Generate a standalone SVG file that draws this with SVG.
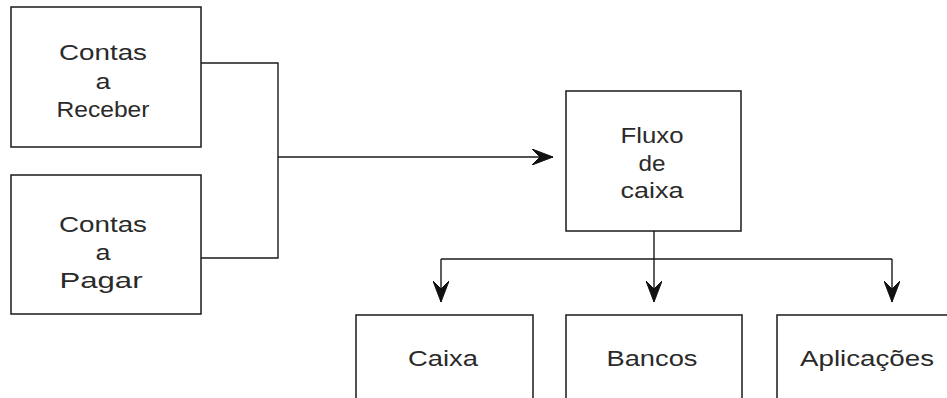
<svg xmlns="http://www.w3.org/2000/svg" width="947" height="398" viewBox="0 0 947 398">
<defs>
<style>
.box{fill:#fff;stroke:#1a1a1a;stroke-width:1.5}
.t{font-family:"Liberation Sans",Arial,sans-serif;font-size:22px;fill:#2a2a2a;text-anchor:middle}
.ln{fill:none;stroke:#1a1a1a;stroke-width:1.4}
</style>
<marker id="ah" markerUnits="userSpaceOnUse" markerWidth="22" markerHeight="16" viewBox="0 0 22 16" refX="22" refY="8" orient="auto">
<path d="M22,8 L1,0 L9,8 L1,16 Z" fill="#111" stroke="#111" stroke-width="1" stroke-linejoin="round"/>
</marker>
</defs>
<rect width="947" height="398" fill="#fff"/>
<g id="contas-receber">
<rect class="box" x="11" y="7" width="190" height="140"/>
<text class="t" x="103" y="60" textLength="88" lengthAdjust="spacingAndGlyphs">Contas</text>
<text class="t" x="103" y="89" textLength="15" lengthAdjust="spacingAndGlyphs">a</text>
<text class="t" x="103" y="117" textLength="93" lengthAdjust="spacingAndGlyphs">Receber</text>
</g>
<g id="contas-pagar">
<rect class="box" x="11" y="175" width="190" height="139"/>
<text class="t" x="103" y="232" textLength="88" lengthAdjust="spacingAndGlyphs">Contas</text>
<text class="t" x="103" y="260" textLength="15" lengthAdjust="spacingAndGlyphs">a</text>
<text class="t" x="101" y="288" textLength="83" lengthAdjust="spacingAndGlyphs">Pagar</text>
</g>
<g id="fluxo-caixa">
<rect class="box" x="566" y="91" width="175" height="140"/>
<text class="t" x="652" y="143" textLength="63" lengthAdjust="spacingAndGlyphs">Fluxo</text>
<text class="t" x="652" y="171" textLength="27" lengthAdjust="spacingAndGlyphs">de</text>
<text class="t" x="652" y="198" textLength="63" lengthAdjust="spacingAndGlyphs">caixa</text>
</g>
<g id="caixa">
<rect class="box" x="356" y="315" width="177" height="100"/>
<text class="t" x="443" y="366" textLength="70" lengthAdjust="spacingAndGlyphs">Caixa</text>
</g>
<g id="bancos">
<rect class="box" x="566" y="315" width="176" height="100"/>
<text class="t" x="652" y="366" textLength="91" lengthAdjust="spacingAndGlyphs">Bancos</text>
</g>
<g id="aplicacoes">
<rect class="box" x="777" y="315" width="190" height="100"/>
<text class="t" x="867" y="366" textLength="134" lengthAdjust="spacingAndGlyphs">Aplicações</text>
</g>
<g id="connectors">
<path class="ln" d="M201,63 H278 V258 H201"/>
<path class="ln" d="M278,157 H553" marker-end="url(#ah)"/>
<path class="ln" d="M654,231 V302" marker-end="url(#ah)"/>
<path class="ln" d="M441,259 H892"/>
<path class="ln" d="M441,259 V302" marker-end="url(#ah)"/>
<path class="ln" d="M892,259 V302" marker-end="url(#ah)"/>
</g>
</svg>
